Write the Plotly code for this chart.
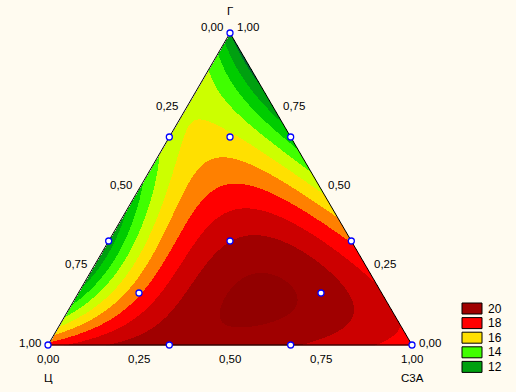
import numpy as np
import plotly.graph_objects as go

# ---- data: simplex design (fractions of Г, Ц, С3А) and measured response ----
frac_g   = [1, 0, 0, 2/3, 1/3, 2/3, 1/3, 0, 0, 1/3, 2/3, 1/6, 1/6]
frac_c   = [0, 1, 0, 1/3, 2/3, 0, 0, 2/3, 1/3, 1/3, 1/6, 2/3, 1/6]
frac_a   = [0, 0, 1, 0, 0, 1/3, 2/3, 1/3, 2/3, 1/3, 1/6, 1/6, 2/3]
response = [11.0, 17.5, 17.5, 14.5, 11.4, 12.5, 16.9, 19.7, 19.1, 19.0, 15.2, 16.9, 19.6]

component_names = ["Г", "Ц", "С3А"]
tick_values = [0.0, 0.25, 0.5, 0.75, 1.0]
tick_labels = ["0,00", "0,25", "0,50", "0,75", "1,00"]
legend_levels = [20, 18, 16, 14, 12]

zone_colors = ["#006b2e", "#00a010", "#00cc00", "#40ff00", "#ccff00", "#ffe000",
               "#ff8000", "#ff0000", "#cc0000", "#a00000", "#920000"]
z_lo, z_hi = 10, 21
BG = "#fffbf0"

H = np.sqrt(3) / 2


def to_xy(g, c, a):
    g = np.asarray(g, float); a = np.asarray(a, float)
    return a + g / 2, g * H


def basis(g, c, a):
    return np.stack([g, c, a, g * c, g * a, c * a,
                     g * c * (g - c), g * a * (g - a), c * a * (c - a),
                     g * c * a, g * g * c * a, g * c * c * a,
                     g * c * a * (g * g + c * c + a * a)], axis=-1)


g_d, c_d, a_d = (np.array(v, float) for v in (frac_g, frac_c, frac_a))
coef = np.linalg.solve(basis(g_d, c_d, a_d), np.array(response, float))

# evaluation grid (one cell per screen pixel)
xs = np.linspace(0, 1, 365)
ys = np.linspace(0, H, 313)
X, Y = np.meshgrid(xs, ys)
G = Y / H
A = X - G / 2
C = 1 - G - A
Z = basis(G, C, A) @ coef
Z[(A < -1e-9) | (C < -1e-9)] = np.nan
Z = np.round(Z, 3)

n = len(zone_colors)
cscale = []
for i, col in enumerate(zone_colors):
    cscale.append([i / n, col])
    cscale.append([(i + 1) / n, col])

fig = go.Figure()
fig.add_trace(go.Heatmap(x=xs, y=ys, z=Z, colorscale=cscale, zmin=z_lo, zmax=z_hi,
                         zsmooth=False, showscale=False, hoverinfo="skip"))

# triangle outline
vx, vy = to_xy([0, 0, 1, 0], [1, 0, 0, 1], [0, 1, 0, 0])
fig.add_trace(go.Scatter(x=vx, y=vy, mode="lines", line=dict(color="black", width=1),
                         hoverinfo="skip", showlegend=False))

# design points
px, py = to_xy(frac_g, frac_c, frac_a)
fig.add_trace(go.Scatter(x=px, y=py, mode="markers", showlegend=False, hoverinfo="skip",
                         marker=dict(symbol="circle", size=6, color="white",
                                     line=dict(color="#0000ff", width=1.3))))

font = dict(family="Liberation Sans, Arial, sans-serif", size=11.5, color="black")
ann = []
for t, lab in zip(tick_values, tick_labels):
    # left edge: Ц
    x, y = to_xy(1 - t, t, 0)
    ann.append(dict(x=float(x), y=float(y), text=lab, xanchor="right", yanchor="middle",
                    xshift=-5, yshift=6 - 4 * t, showarrow=False, font=font))
    # right edge: Г
    x, y = to_xy(t, 0, 1 - t)
    ann.append(dict(x=float(x), y=float(y), text=lab, xanchor="left", yanchor="middle",
                    xshift=5, yshift=2 + 4 * t, showarrow=False, font=font))
    # bottom edge: С3А
    x, y = to_xy(0, 1 - t, t)
    ann.append(dict(x=float(x), y=float(y), text=lab, xanchor="center", yanchor="middle",
                    yshift=-14, showarrow=False, font=font))

x, y = to_xy(1, 0, 0)
ann.append(dict(x=float(x), y=float(y), text=component_names[0], showarrow=False,
                xanchor="center", yanchor="middle", yshift=22, font=font))
x, y = to_xy(0, 1, 0)
ann.append(dict(x=float(x), y=float(y), text=component_names[1], showarrow=False,
                xanchor="center", yanchor="middle", yshift=-33, font=font))
x, y = to_xy(0, 0, 1)
ann.append(dict(x=float(x), y=float(y), text=component_names[2], showarrow=False,
                xanchor="center", yanchor="middle", yshift=-33, font=font))

# legend boxes (paper coords from pixel layout)
W, HP = 516, 392
shapes = []
for i, lev in enumerate(legend_levels):
    top = 303 + i * 14.6
    col = zone_colors[lev - z_lo - 1]
    shapes.append(dict(type="rect", xref="paper", yref="paper",
                       x0=462 / W, x1=482 / W, y0=1 - (top + 11) / HP, y1=1 - top / HP,
                       fillcolor=col, line=dict(color="black", width=1)))
    ann.append(dict(xref="paper", yref="paper", x=486 / W, y=1 - (top + 5.5) / HP,
                    text=str(lev), xanchor="left", yanchor="middle", showarrow=False,
                    font=dict(family=font["family"], size=12, color="black")))

ppu_y = 312 / H
fig.update_layout(
    width=W, height=HP, margin=dict(l=0, r=0, t=0, b=0),
    paper_bgcolor=BG, plot_bgcolor=BG, showlegend=False,
    xaxis=dict(range=[-48 / 364, 468 / 364], visible=False, fixedrange=True),
    yaxis=dict(range=[-(HP - 345) / ppu_y, 345 / ppu_y], visible=False, fixedrange=True),
    annotations=ann, shapes=shapes,
)
fig.write_html("out.html", config={"displayModeBar": False},
               post_script="document.body.style.margin='0';document.body.style.background='" + BG + "';")
